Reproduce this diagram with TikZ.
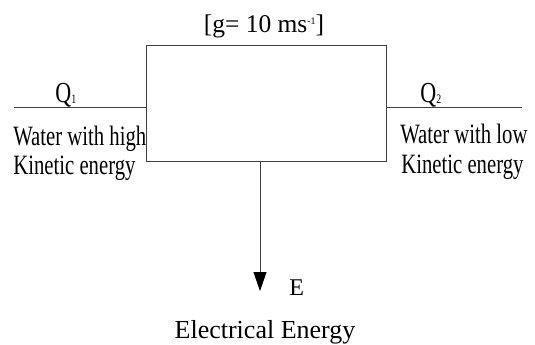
\documentclass[tikz,border=0pt]{standalone}
\usepackage{fontspec}
\setmainfont{Liberation Serif}
\usetikzlibrary{arrows.meta, positioning}

\newcommand{\subidx}[1]{\raisebox{-1pt}{\fontsize{13}{13}\selectfont #1}}

\begin{document}
\begin{tikzpicture}[x=1pt, y=-1pt, line width=0.9pt,
  sidelbl/.style={font=\fontsize{28}{29}\selectfont, xscale=0.74, anchor=base west, inner sep=0pt},
  flowlbl/.style={font=\fontsize{29}{29}\selectfont, xscale=0.76, anchor=base west, inner sep=0pt}]

  \useasboundingbox (0,0) rectangle (535,345);

  % turbine box
  \node[draw=black!75, minimum width=240pt, minimum height=116pt, inner sep=0pt] (turbine) at (266,103) {};

  \node[font=\fontsize{25.5}{27}\selectfont, anchor=base, inner sep=0pt] (gval) at (264,33)
    {[g= 10 ms\raisebox{8.5pt}{\fontsize{10}{10}\selectfont -1}]};

  % water in and out
  \coordinate (inlet)  at (14,107);
  \coordinate (outlet) at (522,107);
  \draw[black!75] (inlet) -- (inlet -| turbine.west);
  \draw[black!75] (turbine.east |- outlet) -- (outlet);

  \node[flowlbl] (qin)  at (55,102)  {Q\subidx{1}};
  \node[flowlbl] (qout) at (420,102) {Q\subidx{2}};

  \node[sidelbl] (hiwater) at (13,145)  {Water with high};
  \node[sidelbl] (hikin)   at (13,174)  {Kinetic energy};
  \node[sidelbl] (lowater) at (400,143) {Water with low};
  \node[sidelbl] (lokin)   at (401,173) {Kinetic energy};

  % electrical output
  \coordinate (etip) at (260,291);
  \draw[black!75, -{Triangle[length=19pt, width=13pt, color=black]}] (etip |- turbine.south) -- (etip);

  \node[font=\fontsize{24}{25}\selectfont, anchor=base west, inner sep=0pt] (eout) at (289,295) {E};
  \node[font=\fontsize{26}{28}\selectfont, anchor=base, inner sep=0pt] (elec) at (265,338) {Electrical Energy};

\end{tikzpicture}
\end{document}
